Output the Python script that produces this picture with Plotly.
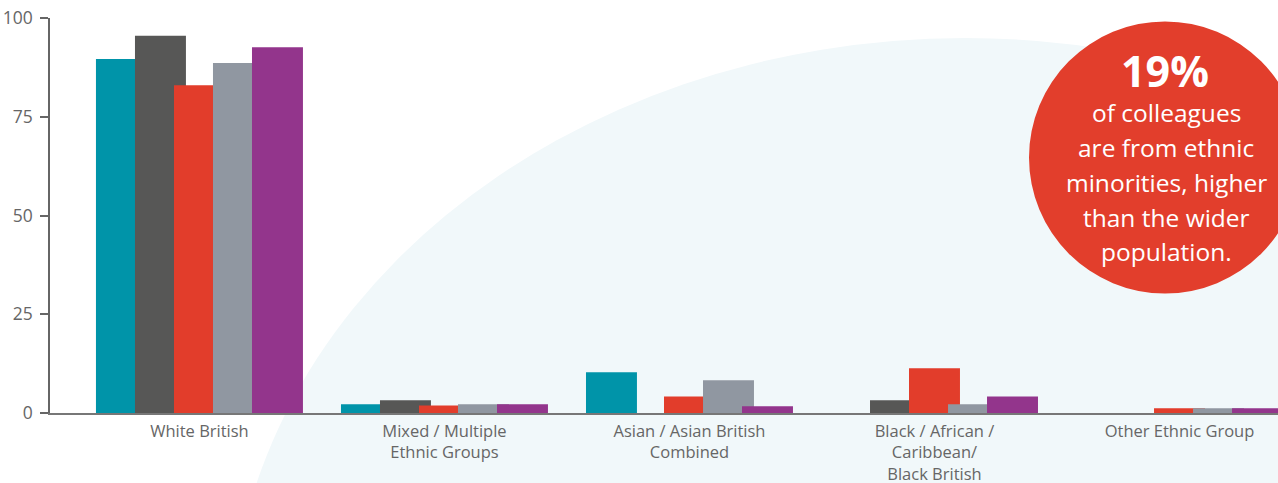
import plotly.graph_objects as go

categories = ["White British", "Mixed / Multiple<br>Ethnic Groups", "Asian / Asian British<br>Combined",
              "Black / African /<br>Caribbean/<br>Black British", "Other Ethnic Group"]
series_names = ["Series 1", "Series 2", "Series 3", "Series 4", "Series 5"]
values = {
    "Series 1": [89.6, 2.2, 10.3, 0, 0],
    "Series 2": [95.5, 3.2, 0, 3.2, 0],
    "Series 3": [83.0, 1.9, 4.2, 11.3, 1.2],
    "Series 4": [88.6, 2.2, 8.3, 2.2, 1.2],
    "Series 5": [92.6, 2.2, 1.7, 4.2, 1.2],
}
colors = ["#0094a9", "#575756", "#e23d2b", "#9097a1", "#93358c"]
y_ticks = [0, 25, 50, 75, 100]

W, H = 1278, 483
ML, MR, MT, MB = 50, 0, 18, 70
pw, ph = W - ML - MR, H - MT - MB

def px(x):
    return (x - ML) / pw

def py(y):
    return (H - MB - y) / ph

fig = go.Figure()
bar_w = 0.208
step = 0.1592
for i, name in enumerate(series_names):
    fig.add_trace(go.Bar(
        x=categories, y=values[name], name=name,
        marker=dict(color=colors[i], line=dict(width=0)),
        width=bar_w, offset=-0.4224 + step * i,
    ))

shapes = [
    dict(type="circle", xref="paper", yref="paper", layer="below",
         x0=px(230), x1=px(1700), y0=py(1252), y1=py(38),
         fillcolor="#f1f8fa", line=dict(width=0)),
    dict(type="circle", xref="paper", yref="paper", layer="above",
         x0=px(1029), x1=px(1301), y0=py(293.5), y1=py(21.5),
         fillcolor="#e23e2c", line=dict(width=0)),
]

annotations = [dict(text="<b>19%</b>", x=px(1165), y=py(70), xref="paper", yref="paper",
                    showarrow=False, xanchor="center", yanchor="middle",
                    font=dict(family="Open Sans", size=43, color="white"))]
lines = ["of colleagues", "are from ethnic", "minorities, higher", "than the wider", "population."]
line_y = [112, 147, 182, 217, 251]
for t, yy in zip(lines, line_y):
    annotations.append(dict(text=t, x=px(1166), y=py(yy), xref="paper", yref="paper",
                            showarrow=False, xanchor="center", yanchor="middle",
                            font=dict(family="Open Sans", size=24.5, color="white")))

fig.update_layout(
    width=W, height=H,
    margin=dict(l=ML, r=MR, t=MT, b=MB, pad=0, autoexpand=False),
    barmode="overlay",
    showlegend=False,
    paper_bgcolor="white",
    plot_bgcolor="rgba(0,0,0,0)",
    shapes=shapes,
    annotations=annotations,
    font=dict(family="Open Sans", color="#666666"),
    xaxis=dict(range=[-0.61, 4.402], showline=True, linecolor="#777777", linewidth=2,
               ticks="", showgrid=False, zeroline=False, ticklabelstandoff=2, automargin=False,
               tickfont=dict(size=16.5, color="#666666")),
    yaxis=dict(range=[0, 100], tickvals=y_ticks, showline=True, linecolor="#666666", linewidth=1.5,
               ticks="outside", ticklen=8, tickcolor="#666666", tickwidth=1.5, automargin=False,
               showgrid=False, zeroline=False, ticklabelstandoff=4,
               tickfont=dict(size=17.5, color="#666666")),
)

fig.write_html("out.html")
